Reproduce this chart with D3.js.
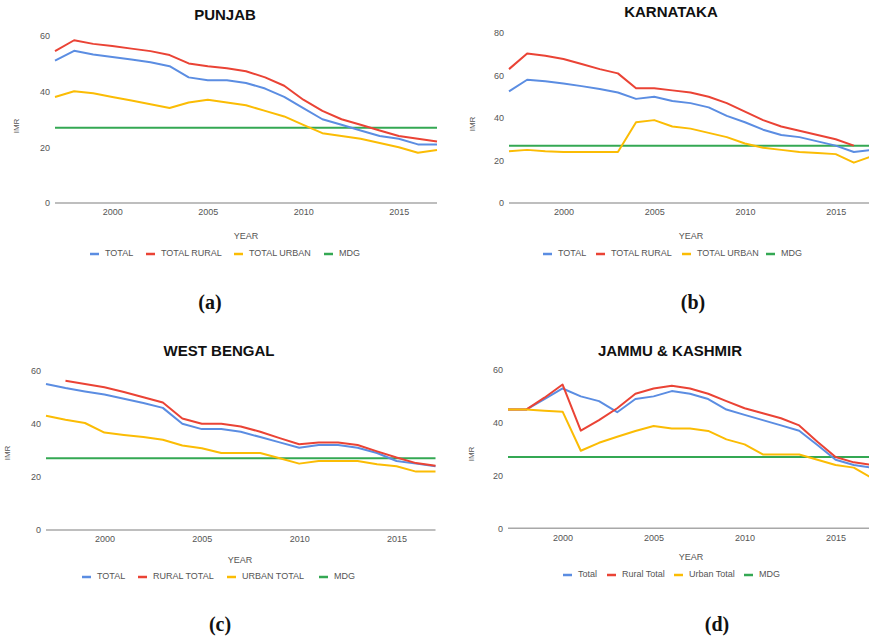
<!DOCTYPE html>
<html>
<head>
<meta charset="utf-8">
<script src="https://cdn.jsdelivr.net/npm/d3@7"></script>
<style>
  html, body { margin: 0; padding: 0; background: #fff; }
  svg { display: block; font-family: "Liberation Sans", Arial, sans-serif; }
</style>
</head>
<body>
<svg id="chart" width="869" height="638"></svg>
<script>
// Infant mortality rate (IMR) by year, four states, with the MDG target line.
const years = d3.range(1997, 2018);
const mdgTarget = 27;

const punjabTotal = [51, 54.5, 53.2, 52.3, 51.4, 50.4, 49, 45, 44, 44, 43, 41, 38, 34, 30, 28, 26, 24, 23, 21, 21];
const punjabRural = [54.4, 58.3, 57, 56.2, 55.3, 54.4, 53, 50, 49, 48.3, 47.2, 45, 42, 37, 33, 30, 28, 26, 24, 23, 22];
const punjabUrban = [38, 40, 39.3, 38, 36.7, 35.4, 34, 36, 37, 36, 35, 33, 31, 28, 25, 24, 23, 21.5, 20, 18, 19];

const karnatakaTotal = [52.5, 58, 57.3, 56.2, 55, 53.6, 52, 49, 50, 48, 47, 45, 41, 38, 34.5, 32, 31, 29, 27, 24, 25];
const karnatakaRural = [63, 70.3, 69.3, 67.8, 65.4, 63, 61, 54, 54, 53, 52, 50, 47, 43, 39, 36, 34, 32, 30, 27, null];
const karnatakaUrban = [24.3, 25, 24.3, 24, 24, 24, 24, 38, 39, 36, 35, 33, 31, 28, 26, 25, 24, 23.5, 23, 19, 22];

const bengalTotal = [55, 53.5, 52.2, 51, 49.4, 47.8, 46, 40, 38, 38, 37, 35, 33, 31, 32, 32, 31, 29, 26, 25, 24];
const bengalRural = [null, 56.2, 55, 53.8, 52, 50, 48, 42, 40, 40, 39, 37, 34.6, 32.3, 33, 33, 32, 29.6, 27.3, 25.2, 24.2];
const bengalUrban = [43, 41.5, 40.3, 36.7, 35.8, 35, 34, 31.8, 30.8, 29, 29, 29, 27, 25, 26, 26, 26, 24.8, 24, 22, 22];

const jkTotal = [45, 45, 49, 53, 50, 48.2, 44, 49, 50, 52, 51, 49, 45, 43, 41, 39, 37, 31.6, 26, 24, 23];
const jkRural = [45, 45, 49.5, 54.5, 37, 41, 45.5, 51, 53, 54, 53, 51, 48.2, 45.5, 43.6, 41.7, 39, 32.8, 27, 25, 24];
const jkUrban = [45, 45, 44.6, 44.2, 29.4, 32.4, 34.7, 36.9, 38.8, 37.8, 37.8, 36.9, 33.7, 31.8, 28, 28, 28, 26, 24, 23, 19];

const xTicks = [2000, 2005, 2010, 2015];
const colors = { total: "#5b8de2", rural: "#ea4335", urban: "#fbbc04", mdg: "#34a853" };

const panels = [
  {
    title: "PUNJAB", tag: "(a)", titleX: 225, titleY: 20,
    x: [55, 437], y: [203, 35.5], yMax: 60, yTicks: [0, 20, 40, 60],
    imr: [17, 126], year: [246, 239], tagPos: [210, 309],
    series: [punjabTotal, punjabRural, punjabUrban],
    legend: { y: 254, items: [[90, "TOTAL"], [146, "TOTAL RURAL"], [234, "TOTAL URBAN"], [324, "MDG"]] }
  },
  {
    title: "KARNATAKA", tag: "(b)", titleX: 671, titleY: 17,
    x: [509, 872], y: [203, 33], yMax: 80, yTicks: [0, 20, 40, 60, 80],
    imr: [473, 124], year: [691, 239], tagPos: [693, 309],
    series: [karnatakaTotal, karnatakaRural, karnatakaUrban],
    legend: { y: 254, items: [[543, "TOTAL"], [596, "TOTAL RURAL"], [682, "TOTAL URBAN"], [766, "MDG"]] }
  },
  {
    title: "WEST BENGAL", tag: "(c)", titleX: 219, titleY: 356,
    x: [46, 435.5], y: [530, 370.7], yMax: 60, yTicks: [0, 20, 40, 60],
    imr: [8, 453], year: [240, 563], tagPos: [220, 631],
    series: [bengalTotal, bengalRural, bengalUrban],
    legend: { y: 577, items: [[82, "TOTAL"], [138, "RURAL TOTAL"], [227, "URBAN TOTAL"], [319, "MDG"]] }
  },
  {
    title: "JAMMU & KASHMIR", tag: "(d)", titleX: 670, titleY: 356,
    x: [508, 872], y: [528.3, 370], yMax: 60, yTicks: [0, 20, 40, 60],
    imr: [472, 454], year: [691, 560], tagPos: [717, 631],
    series: [jkTotal, jkRural, jkUrban],
    legend: { y: 575, items: [[563, "Total"], [607, "Rural Total"], [674, "Urban Total"], [744, "MDG"]] }
  }
];

const svg = d3.select("#chart");
const seriesColors = [colors.total, colors.rural, colors.urban];
const legendColors = [colors.total, colors.rural, colors.urban, colors.mdg];

panels.forEach(p => {
  const g = svg.append("g");
  const x = d3.scaleLinear().domain([1997, 2017]).range(p.x);
  const y = d3.scaleLinear().domain([0, p.yMax]).range(p.y);

  // title
  g.append("text")
    .attr("x", p.titleX).attr("y", p.titleY)
    .attr("text-anchor", "middle")
    .attr("font-size", 15).attr("font-weight", "bold").attr("fill", "#111")
    .text(p.title);

  // y axis labels (no axis line, Google-Charts style)
  const yAxis = d3.axisLeft(y).tickValues(p.yTicks).tickSize(0).tickPadding(5).tickFormat(d3.format("d"));
  const ya = g.append("g").attr("transform", `translate(${p.x[0]},0)`).call(yAxis);
  ya.select(".domain").remove();
  ya.selectAll("text").attr("font-size", 9).attr("fill", "#555").attr("font-family", "Liberation Sans, Arial, sans-serif");

  // x axis labels
  const xAxis = d3.axisBottom(x).tickValues(xTicks).tickSize(0).tickPadding(6).tickFormat(d3.format("d"));
  const xa = g.append("g").attr("transform", `translate(0,${p.y[0]})`).call(xAxis);
  xa.select(".domain").remove();
  xa.selectAll("text").attr("font-size", 9).attr("fill", "#555").attr("font-family", "Liberation Sans, Arial, sans-serif");

  // baseline at zero
  g.append("line")
    .attr("x1", p.x[0]).attr("x2", p.x[1])
    .attr("y1", y(0)).attr("y2", y(0))
    .attr("stroke", "#a8a8a8").attr("stroke-width", 1.5);

  // axis titles
  g.append("text")
    .attr("transform", `translate(${p.imr[0]},${p.imr[1]}) rotate(-90)`)
    .attr("text-anchor", "middle").attr("dominant-baseline", "middle")
    .attr("font-size", 8).attr("fill", "#555").text("IMR");
  g.append("text")
    .attr("x", p.year[0]).attr("y", p.year[1])
    .attr("text-anchor", "middle")
    .attr("font-size", 9).attr("fill", "#555").text("YEAR");

  // MDG target line
  g.append("line")
    .attr("x1", x(1997)).attr("x2", x(2017))
    .attr("y1", y(mdgTarget)).attr("y2", y(mdgTarget))
    .attr("stroke", colors.mdg).attr("stroke-width", 2);

  // data lines
  const line = d3.line()
    .defined(d => d.v != null)
    .x(d => x(d.yr)).y(d => y(d.v));
  p.series.forEach((vals, i) => {
    const pts = years.map((yr, k) => ({ yr, v: vals[k] }));
    g.append("path")
      .datum(pts)
      .attr("fill", "none")
      .attr("stroke", seriesColors[i])
      .attr("stroke-width", 2)
      .attr("stroke-linejoin", "round")
      .attr("d", line);
  });

  // legend
  p.legend.items.forEach(([lx, label], i) => {
    g.append("line")
      .attr("x1", lx).attr("x2", lx + 9)
      .attr("y1", p.legend.y).attr("y2", p.legend.y)
      .attr("stroke", legendColors[i]).attr("stroke-width", 2.5);
    g.append("text")
      .attr("x", lx + 15).attr("y", p.legend.y)
      .attr("dominant-baseline", "middle")
      .attr("font-size", 9).attr("fill", "#555").text(label);
  });

  // panel tag
  g.append("text")
    .attr("x", p.tagPos[0]).attr("y", p.tagPos[1])
    .attr("text-anchor", "middle")
    .attr("font-family", "Liberation Serif, Times New Roman, serif")
    .attr("font-size", 20).attr("font-weight", "bold").attr("fill", "#111")
    .text(p.tag);
});
</script>
</body>
</html>
